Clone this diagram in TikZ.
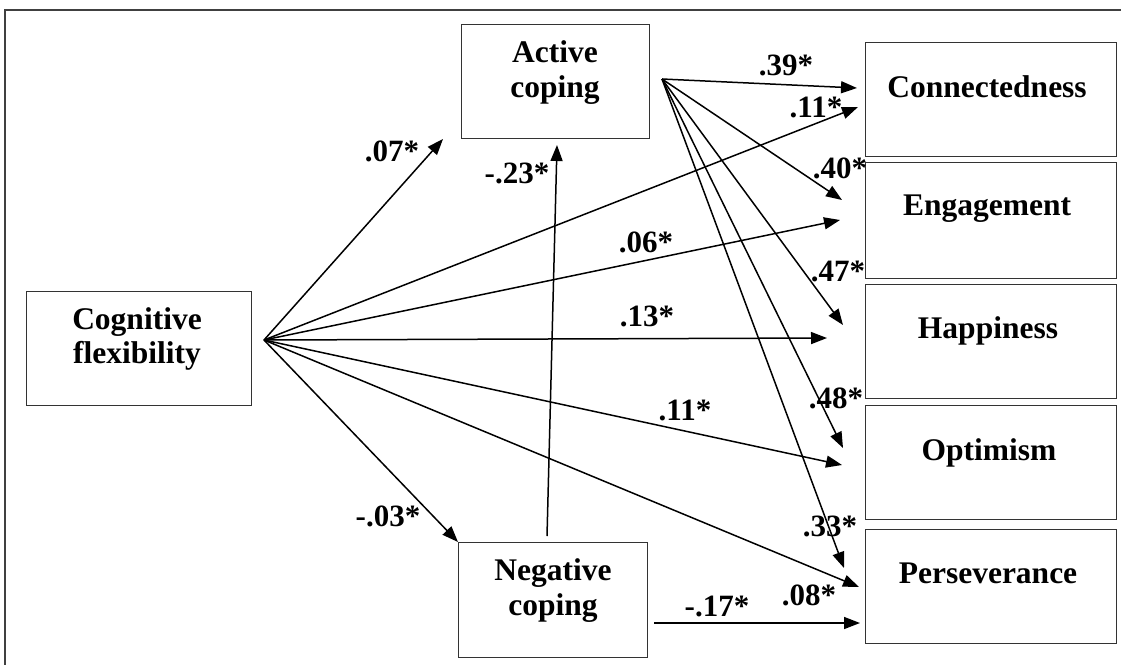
\documentclass[tikz,border=0pt]{standalone}
\usepackage{fontspec}
\setmainfont{Liberation Serif}
\usetikzlibrary{arrows.meta}
\begin{document}
\begin{tikzpicture}[x=1pt,y=-1pt,
  box/.style={draw=black!80, line width=1.4pt, inner sep=0pt, anchor=north west},
  txt/.style={font=\fontsize{31.5}{34}\selectfont\bfseries, anchor=base, inner sep=0pt},
  coef/.style={font=\fontsize{31}{34}\selectfont\bfseries, anchor=center, inner sep=0pt},
  arr/.style={line width=1.5pt, -{Triangle[length=16pt,width=12pt]}},
  frame/.style={draw=black!75, line width=2pt}]
\useasboundingbox (0,0) rectangle (1121,665);
% frame
\coordinate (fTR) at (1121,10);
\coordinate (fTL) at (5,10);
\coordinate (fBL) at (5,665);
\draw[frame] (fTR) -- (fTL) -- (fBL);
% boxes
\node[box, minimum width=225pt, minimum height=114pt] (cf) at (26,291) {};
\node[box, minimum width=188pt, minimum height=114pt] (ac) at (461,24) {};
\node[box, minimum width=189pt, minimum height=115pt] (nc) at (458,542) {};
\node[box, minimum width=251pt, minimum height=114pt] (con) at (865,42) {};
\node[box, minimum width=251pt, minimum height=116pt] (eng) at (865,162) {};
\node[box, minimum width=251pt, minimum height=114pt] (hap) at (865,284) {};
\node[box, minimum width=251pt, minimum height=114pt] (opt) at (865,405) {};
\node[box, minimum width=251pt, minimum height=114pt] (per) at (865,529) {};
% box texts
\node[txt] (cfT1) at (137,329) {Cognitive};
\node[txt] (cfT2) at (137,363) {flexibility};
\node[txt] (acT1) at (555,62) {Active};
\node[txt] (acT2) at (555,97) {coping};
\node[txt] (ncT1) at (553,580) {Negative};
\node[txt] (ncT2) at (553,615) {coping};
\node[txt] (conT) at (987,97) {Connectedness};
\node[txt] (engT) at (987,215) {Engagement};
\node[txt] (hapT) at (988,338) {Happiness};
\node[txt] (optT) at (989,460) {Optimism};
\node[txt] (perT) at (988,583) {Perseverance};
% arrow ends
\coordinate (o1) at (264,340);
\coordinate (o2) at (662,79);
\coordinate (t07) at (443,139);
\coordinate (tC1) at (858,107);
\coordinate (tE1) at (840,220);
\coordinate (tH1) at (827,338);
\coordinate (tO1) at (842,465);
\coordinate (tP1) at (859,587);
\coordinate (tN) at (458,542);
\coordinate (tC2) at (857,88);
\coordinate (tE2) at (842,200);
\coordinate (tH2) at (843,325);
\coordinate (tO2) at (843,448);
\coordinate (tP2) at (844,568);
\coordinate (sNA) at (547,536);
\coordinate (tNA) at (557,145);
\coordinate (sNP) at (654,623);
\coordinate (tNP) at (860,623);
% arrows from cognitive flexibility
\draw[arr] (o1) -- (t07);
\draw[arr] (o1) -- (tC1);
\draw[arr] (o1) -- (tE1);
\draw[arr] (o1) -- (tH1);
\draw[arr] (o1) -- (tO1);
\draw[arr] (o1) -- (tP1);
\draw[arr] (o1) -- (tN);
% arrows from active coping
\draw[arr] (o2) -- (tC2);
\draw[arr] (o2) -- (tE2);
\draw[arr] (o2) -- (tH2);
\draw[arr] (o2) -- (tO2);
\draw[arr] (o2) -- (tP2);
% arrows from negative coping
\draw[arr] (sNA) -- (tNA);
\draw[arr] (sNP) -- (tNP);
% coefficients
\node[coef] (c07) at (392,151) {.07*};
\node[coef] (c23) at (517,173) {-.23*};
\node[coef] (c39) at (786,65) {.39*};
\node[coef] (c11a) at (816,107) {.11*};
\node[coef] (c40) at (840,168) {.40*};
\node[coef] (c06) at (646,242) {.06*};
\node[coef] (c47) at (838,271) {.47*};
\node[coef] (c13) at (647,316) {.13*};
\node[coef] (c48) at (836,398) {.48*};
\node[coef] (c11b) at (685,410) {.11*};
\node[coef] (c33) at (830,526) {.33*};
\node[coef] (c08) at (809,595) {.08*};
\node[coef] (c17) at (717,606) {-.17*};
\node[coef] (c03) at (388,516) {-.03*};
\end{tikzpicture}
\end{document}
